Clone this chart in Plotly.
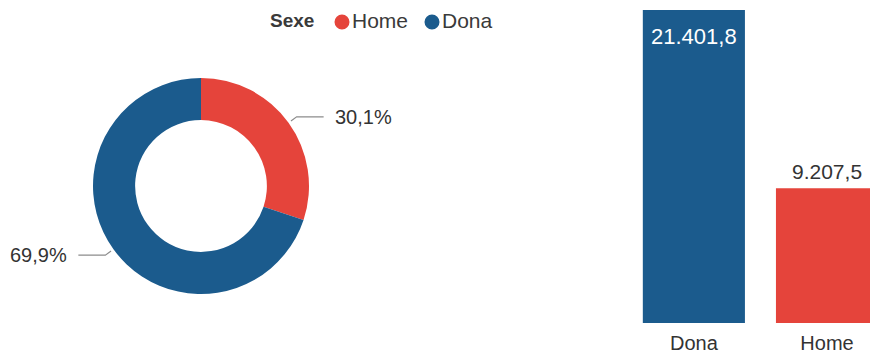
import numpy as np
import plotly.graph_objects as go

# Data
sexes = ["Home", "Dona"]
totals = [9207.5, 21401.8]
bar_order = ["Dona", "Home"]
colors = {"Home": "#E5443B", "Dona": "#1B5B8D"}
legend_title = "Sexe"

W, H = 870, 358
FONT = "Liberation Sans, Arial, sans-serif"
TXT = "#333333"


def fmt_ca(v, decimals=1):
    s = f"{v:,.{decimals}f}"
    return s.replace(",", "X").replace(".", ",").replace("X", ".")


def px(x):
    return x / W


def py(y):
    return 1 - y / H


fig = go.Figure()

# Donut
cx, cy, R = 201, 186, 108
fig.add_trace(go.Pie(
    labels=sexes,
    values=totals,
    hole=0.61,
    sort=False,
    direction="clockwise",
    rotation=0,
    marker=dict(colors=[colors[s] for s in sexes], line=dict(width=0)),
    textinfo="none",
    showlegend=False,
    domain=dict(x=[px(cx - R), px(cx + R)], y=[py(cy + R), py(cy - R)]),
))

# Percentage labels with elbow leader lines at each slice's mid angle
vals = np.array(totals)
shares = vals / vals.sum()
ends = np.cumsum(shares) * 360
mids = ends - shares * 180
for share, ang in zip(shares, mids):
    a = np.radians(ang)
    ux, uy = np.sin(a), -np.cos(a)
    x0, y0 = cx + (R + 3) * ux, cy + (R + 3) * uy
    x1, y1 = x0 + 7 * ux, y0 + 7 * uy
    side = 1 if ux > 0 else -1
    x2 = x1 + side * 27
    fig.add_shape(
        type="path", xref="paper", yref="paper",
        path=f"M {px(x0)},{py(y0)} L {px(x1)},{py(y1)} L {px(x2)},{py(y1)}",
        line=dict(color="#8c8c8c", width=1.2),
    )
    fig.add_annotation(
        x=px(x2 + side * 9), y=py(y1), xref="paper", yref="paper",
        text=fmt_ca(share * 100) + "%", showarrow=False,
        xanchor="left" if side > 0 else "right", yanchor="middle",
        font=dict(family=FONT, size=20, color=TXT),
    )

# Bars
bar_vals = [totals[sexes.index(s)] for s in bar_order]
fig.add_trace(go.Bar(
    x=bar_order,
    y=bar_vals,
    marker=dict(color=[colors[s] for s in bar_order], line=dict(width=0)),
    showlegend=False,
    hoverinfo="x+y",
))

# Value labels: inside the top of the tall bar, above the short one
tallest = max(bar_vals)
for cat, v in zip(bar_order, bar_vals):
    inside = v == tallest
    fig.add_annotation(
        x=cat, y=v, xref="x", yref="y",
        text=fmt_ca(v), showarrow=False,
        yanchor="middle", yshift=-26 if inside else 17,
        font=dict(family=FONT, size=22 if inside else 21,
                  color="white" if inside else TXT),
    )

# Legend: title, coloured dots and names
fig.add_annotation(
    x=px(268), y=py(21), xref="paper", yref="paper",
    xanchor="left", yanchor="middle", showarrow=False,
    text=f"<b>{legend_title}</b>",
    font=dict(family=FONT, size=19, color="#3a3a3a"),
)
for s, dot_x in zip(sexes, [342, 432]):
    fig.add_shape(
        type="circle", xref="paper", yref="paper",
        x0=px(dot_x - 7.5), x1=px(dot_x + 7.5),
        y0=py(22 + 7.5), y1=py(22 - 7.5),
        fillcolor=colors[s], line=dict(width=0),
    )
    fig.add_annotation(
        x=px(dot_x + 8), y=py(21), xref="paper", yref="paper",
        xanchor="left", yanchor="middle", showarrow=False,
        text=s, font=dict(family=FONT, size=21, color="#3a3a3a"),
    )

fig.update_layout(
    width=W, height=H,
    margin=dict(l=0, r=0, t=0, b=0),
    paper_bgcolor="white", plot_bgcolor="white",
    bargap=0.233,
    xaxis=dict(
        domain=[px(614), 1.0],
        range=[-0.6, 1.323],
        showgrid=False, zeroline=False, showline=False,
        ticks="", ticklabelstandoff=6,
        tickfont=dict(family=FONT, size=20, color=TXT),
    ),
    yaxis=dict(
        domain=[py(323), py(10)],
        range=[0, tallest],
        visible=False,
    ),
    font=dict(family=FONT),
)

fig.write_html("out.html")
